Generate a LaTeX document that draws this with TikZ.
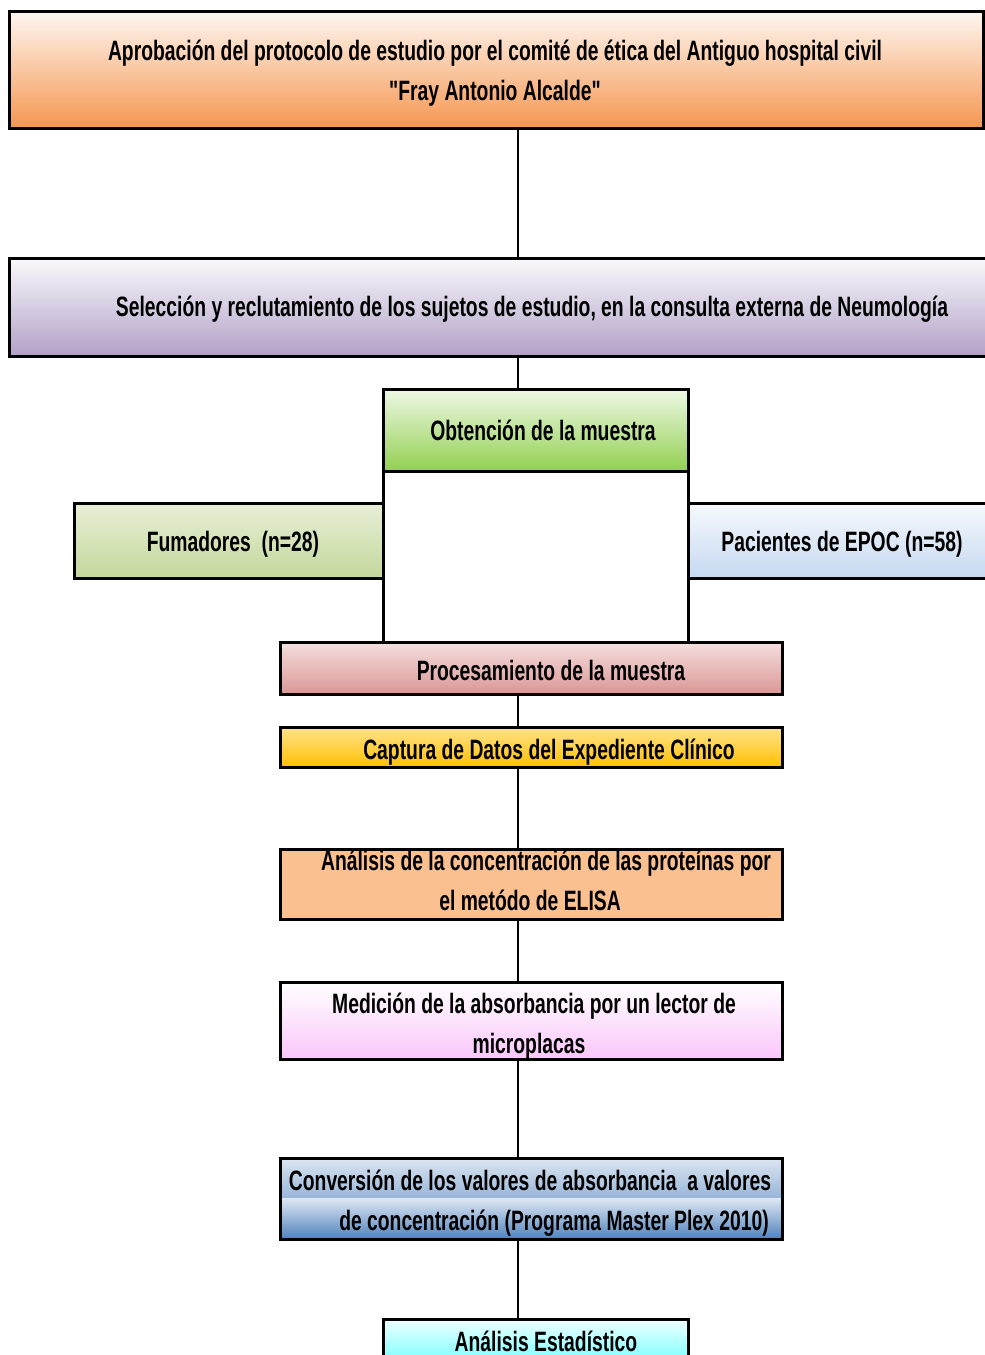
\documentclass[tikz,border=0pt]{standalone}
\usepackage{fontspec}
\setmainfont{Liberation Sans}[FakeStretch=0.69,Ligatures=TeXOff]
\begin{document}
\begin{tikzpicture}[x=1pt,y=-1pt,
  box/.style={draw=black,line width=2.6pt,rectangle,inner sep=0pt,anchor=north west},
  txt/.style={font=\bfseries\fontsize{28}{40}\selectfont,align=center,inner sep=0pt,anchor=base},
  conn/.style={draw=black,line width=2.4pt}]
\useasboundingbox (0,0) rectangle (985,1355);
\definecolor{cOrange}{RGB}{245,150,80}
\definecolor{cLav}{RGB}{177,160,199}
\definecolor{cGreen}{RGB}{146,208,80}
\definecolor{cOlive}{RGB}{196,215,155}
\definecolor{cLBlue}{RGB}{197,217,241}
\definecolor{cRose}{RGB}{218,150,148}
\definecolor{cYel}{RGB}{255,192,0}
\definecolor{cPeach}{RGB}{250,192,144}
\definecolor{cPink}{RGB}{250,198,250}
\definecolor{cSteel}{RGB}{79,129,189}
\definecolor{cCyan}{RGB}{102,255,255}
\coordinate (spine) at (518,0);
\begin{scope}
\clip (0,0) rectangle (985,1355);
% boxes
\node[box,minimum width=974pt,minimum height=117pt,top color=white!92!cOrange,bottom color=cOrange] (top) at (8,10) {};
\node[box,minimum width=990pt,minimum height=98pt,top color=white!94!cLav,bottom color=cLav] (sel) at (8,257) {};
\node[box,minimum width=305pt,minimum height=171pt,fill=white] (frame) at (382,470) {};
\node[box,minimum width=305pt,minimum height=82pt,top color=white!85!cGreen,bottom color=cGreen] (obt) at (382,388) {};
\node[box,minimum width=309pt,minimum height=75pt,top color=white!60!cOlive,bottom color=cOlive] (fum) at (73,502) {};
\node[box,minimum width=310pt,minimum height=75pt,top color=white!85!cLBlue,bottom color=cLBlue] (pac) at (687,502) {};
\node[box,minimum width=502pt,minimum height=52pt,top color=white!70!cRose,bottom color=cRose] (proc) at (279,641) {};
\node[box,minimum width=502pt,minimum height=40pt,top color=white!55!cYel,bottom color=cYel] (capt) at (279,726) {};
\node[box,minimum width=502pt,minimum height=70pt,fill=cPeach] (elisa) at (279,848) {};
\node[box,minimum width=502pt,minimum height=77pt,top color=white,bottom color=cPink] (med) at (279,981) {};
\node[box,minimum width=502pt,minimum height=81pt,
  path picture={
    \shade[top color=white!80!cSteel,bottom color=cSteel] (path picture bounding box.north west) rectangle (path picture bounding box.east);
    \shade[top color=white!80!cSteel,bottom color=cSteel] (path picture bounding box.west) rectangle (path picture bounding box.south east);
  }] (conv) at (279,1157) {};
\node[box,minimum width=305pt,minimum height=50pt,top color=white!90!cCyan,bottom color=cCyan] (est) at (382,1318) {};
% connectors
\draw[conn] (spine |- top.south) -- (spine |- sel.north);
\draw[conn] (spine |- sel.south) -- (spine |- obt.north);
\draw[conn] (spine |- proc.south) -- (spine |- capt.north);
\draw[conn] (spine |- capt.south) -- (spine |- elisa.north);
\draw[conn] (spine |- elisa.south) -- (spine |- med.north);
\draw[conn] (spine |- med.south) -- (spine |- conv.north);
\draw[conn] (spine |- conv.south) -- (spine |- est.north);
% texts
\node[txt] (ttop) at (495,100) {Aprobación del protocolo de estudio por el comité de ética del Antiguo hospital civil\\"Fray Antonio Alcalde"};
\node[txt] (tsel) at (532,316) {Selección y reclutamiento de los sujetos de estudio, en la consulta externa de Neumología};
\node[txt] (tobt) at (543,440) {Obtención de la muestra};
\node[txt] (tfum) at (233,551) {Fumadores\ \ (n=28)};
\node[txt] (tpac) at (842,551) {Pacientes de EPOC (n=58)};
\node[txt] (tproc) at (551,680) {Procesamiento de la muestra};
\node[txt] (tcapt) at (549,759) {Captura de Datos del Expediente Clínico};
\node[txt] (telisa) at (546,910) {Análisis de la concentración de las proteínas por\\\hspace*{-32pt}el metódo de ELISA};
\node[txt] (tmed) at (534,1053) {Medición de la absorbancia por un lector de\\\hspace*{-10pt}microplacas};
\node[txt] (tconv) at (530,1230) {Conversión de los valores de absorbancia\ \ a valores\\\hspace*{48pt}de concentración (Programa Master Plex 2010)};
\node[txt] (test) at (546,1351) {Análisis Estadístico};
\end{scope}
\end{tikzpicture}
\end{document}
